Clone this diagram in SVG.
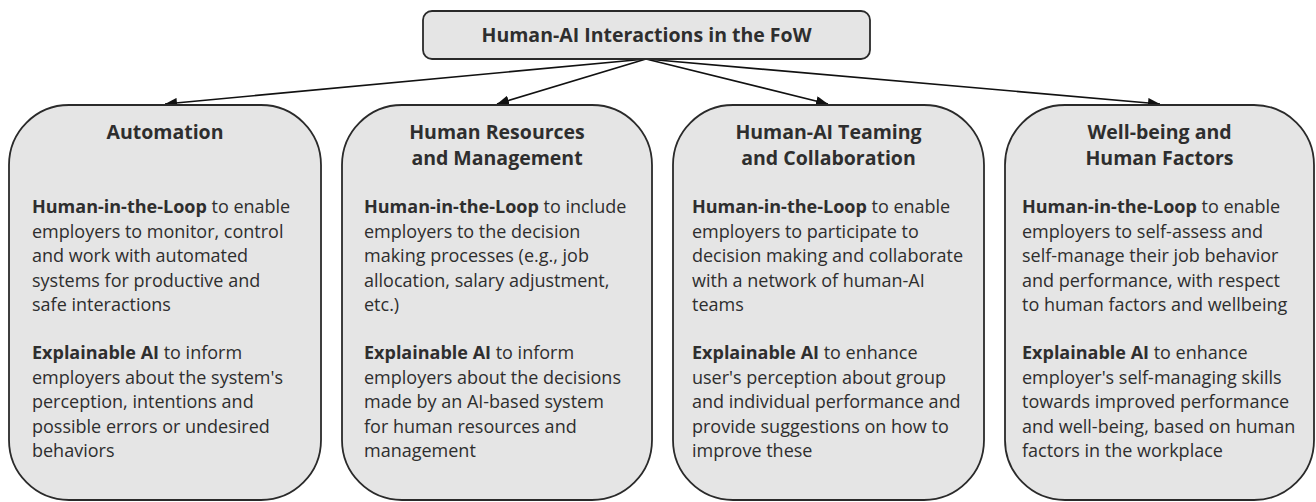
<svg xmlns="http://www.w3.org/2000/svg" width="1316" height="502" viewBox="0 0 1316 502">
<style>
.box{fill:#e5e5e5;stroke:#2a2a2a;stroke-width:1.8}
.t{font-family:"Open Sans","Noto Sans",sans-serif;fill:#2e2e2e}
.h{font-size:19.5px;font-weight:bold;text-anchor:middle}
.b{font-size:18px}
.bb{font-weight:bold}
.conn{stroke:#111;stroke-width:1.6;fill:none;marker-end:url(#ah)}
</style>
<defs>
<marker id="ah" viewBox="0 0 12 10" refX="12" refY="5" markerWidth="12" markerHeight="10" markerUnits="userSpaceOnUse" orient="auto">
<path d="M0,0 L12,5 L0,10 z" fill="#111"/>
</marker>
</defs>
<g id="connectors">
<line class="conn" x1="646" y1="59" x2="165" y2="104"/>
<line class="conn" x1="646" y1="59" x2="497" y2="104"/>
<line class="conn" x1="646" y1="59" x2="828" y2="104"/>
<line class="conn" x1="646" y1="59" x2="1160" y2="104"/>
</g>
<g id="root">
<rect class="box" x="423" y="11" width="447" height="48" rx="9"/>
<text class="t h" x="646.5" y="42">Human-AI Interactions in the FoW</text>
</g>
<g id="automation">
<rect class="box" x="9" y="105" width="312" height="395" rx="60"/>
<text class="t h" x="165" y="139">Automation</text>
<text class="t b">
<tspan x="32" y="213"><tspan class="bb">Human-in-the-Loop</tspan> to enable</tspan>
<tspan x="32" y="237.5">employers to monitor, control</tspan>
<tspan x="32" y="262">and work with automated</tspan>
<tspan x="32" y="286.5">systems for productive and</tspan>
<tspan x="32" y="311">safe interactions</tspan>
<tspan x="32" y="359"><tspan class="bb">Explainable AI</tspan> to inform</tspan>
<tspan x="32" y="383.5">employers about the system's</tspan>
<tspan x="32" y="408">perception, intentions and</tspan>
<tspan x="32" y="432.5">possible errors or undesired</tspan>
<tspan x="32" y="457">behaviors</tspan>
</text>
</g>
<g id="hr">
<rect class="box" x="342" y="105" width="310" height="395" rx="60"/>
<text class="t h"><tspan x="497" y="139">Human Resources</tspan><tspan x="497" y="165">and Management</tspan></text>
<text class="t b">
<tspan x="364" y="213"><tspan class="bb">Human-in-the-Loop</tspan> to include</tspan>
<tspan x="364" y="237.5">employers to the decision</tspan>
<tspan x="364" y="262">making processes (e.g., job</tspan>
<tspan x="364" y="286.5">allocation, salary adjustment,</tspan>
<tspan x="364" y="311">etc.)</tspan>
<tspan x="364" y="359"><tspan class="bb">Explainable AI</tspan> to inform</tspan>
<tspan x="364" y="383.5">employers about the decisions</tspan>
<tspan x="364" y="408">made by an AI-based system</tspan>
<tspan x="364" y="432.5">for human resources and</tspan>
<tspan x="364" y="457">management</tspan>
</text>
</g>
<g id="teaming">
<rect class="box" x="673" y="105" width="311" height="395" rx="60"/>
<text class="t h"><tspan x="828.5" y="139">Human-AI Teaming</tspan><tspan x="828.5" y="165">and Collaboration</tspan></text>
<text class="t b">
<tspan x="692" y="213"><tspan class="bb">Human-in-the-Loop</tspan> to enable</tspan>
<tspan x="692" y="237.5">employers to participate to</tspan>
<tspan x="692" y="262">decision making and collaborate</tspan>
<tspan x="692" y="286.5">with a network of human-AI</tspan>
<tspan x="692" y="311">teams</tspan>
<tspan x="692" y="359"><tspan class="bb">Explainable AI</tspan> to enhance</tspan>
<tspan x="692" y="383.5">user's perception about group</tspan>
<tspan x="692" y="408">and individual performance and</tspan>
<tspan x="692" y="432.5">provide suggestions on how to</tspan>
<tspan x="692" y="457">improve these</tspan>
</text>
</g>
<g id="wellbeing">
<rect class="box" x="1005" y="105" width="309" height="395" rx="60"/>
<text class="t h"><tspan x="1159.5" y="139">Well-being and</tspan><tspan x="1159.5" y="165">Human Factors</tspan></text>
<text class="t b">
<tspan x="1022" y="213"><tspan class="bb">Human-in-the-Loop</tspan> to enable</tspan>
<tspan x="1022" y="237.5">employers to self-assess and</tspan>
<tspan x="1022" y="262">self-manage their job behavior</tspan>
<tspan x="1022" y="286.5">and performance, with respect</tspan>
<tspan x="1022" y="311">to human factors and wellbeing</tspan>
<tspan x="1022" y="359"><tspan class="bb">Explainable AI</tspan> to enhance</tspan>
<tspan x="1022" y="383.5">employer's self-managing skills</tspan>
<tspan x="1022" y="408">towards improved performance</tspan>
<tspan x="1022" y="432.5">and well-being, based on human</tspan>
<tspan x="1022" y="457">factors in the workplace</tspan>
</text>
</g>
</svg>
